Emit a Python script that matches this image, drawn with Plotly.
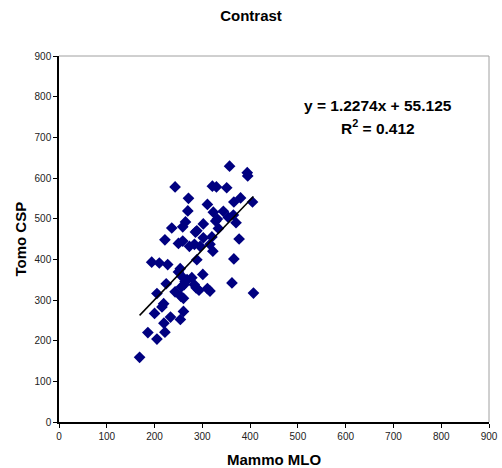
import plotly.graph_objects as go

mammo_mlo = [357, 394, 395, 243, 321, 329.5, 351, 271, 380, 366, 405, 310.6, 269.6, 323, 344, 365,
             354.5, 331.5, 328, 264.7, 370.5, 259, 236, 302, 333.6, 288.5, 285.6, 302, 320, 377,
             221.7, 259, 250, 283.5, 273, 295.4, 316, 322, 288.5, 366, 194, 210, 227.5, 253.7,
             250, 301, 258, 278, 264, 224.4, 362, 283, 256, 287, 293, 310.6, 316, 243, 407,
             205, 255, 260.5, 219, 215.5, 200, 260.5, 233.4, 254, 219.6, 186, 221.7, 205, 168.7,
             262, 268]
tomo_csp = [629, 613, 605, 578, 580, 578, 576, 550, 551, 541, 541, 535, 519, 516, 518, 509,
            503, 499, 494, 492, 490, 480, 477, 487, 476, 470, 467, 453, 455, 450,
            448, 445, 439, 437, 432, 432, 437, 420, 399, 401, 393, 391, 387, 377,
            369, 363, 357, 355, 345, 340, 342, 338, 332, 330, 324, 328, 322, 320, 317,
            316, 309, 304, 291, 283, 267, 272, 258, 252, 243, 220, 221, 204, 159,
            338, 350]

slope = 1.2274
intercept = 55.125
trend_x = [min(mammo_mlo), max(mammo_mlo)]
trend_y = [slope * v + intercept for v in trend_x]

x_ticks = list(range(0, 901, 100))
y_ticks = list(range(0, 901, 100))

font_family = "Liberation Sans, Arial, sans-serif"

fig = go.Figure()
fig.add_trace(go.Scatter(
    x=mammo_mlo, y=tomo_csp, mode="markers",
    marker=dict(symbol="diamond", size=9, color="#000080", line=dict(width=0)),
    showlegend=False, hoverinfo="x+y"))
fig.add_trace(go.Scatter(
    x=trend_x, y=trend_y, mode="lines",
    line=dict(color="black", width=1.5), showlegend=False))

fig.update_layout(
    template="none",
    width=502, height=468,
    margin=dict(l=58.5, r=12.7, t=56, b=46.3, pad=0),
    paper_bgcolor="white", plot_bgcolor="white",
    font=dict(family=font_family, color="black", size=10),
    title=dict(text="<b>Contrast</b>", x=0.5, xref="container", xanchor="center",
               y=1 - 16 / 468, yref="container", yanchor="middle",
               font=dict(size=15, family=font_family)),
    xaxis=dict(range=[0, 900], tickvals=x_ticks, ticktext=[str(v) for v in x_ticks],
               automargin=False,
               showgrid=False, zeroline=False, showline=True, linecolor="black", linewidth=1.5,
               ticks="outside", ticklen=4, tickcolor="black", tickfont=dict(size=10, color="#222")),
    yaxis=dict(range=[0, 900], tickvals=y_ticks, ticktext=[str(v) for v in y_ticks],
               automargin=False,
               showgrid=False, zeroline=False, showline=True, linecolor="black", linewidth=1.5,
               ticks="outside", ticklen=4, tickcolor="black", tickfont=dict(size=10, color="#222")),
    shapes=[
        dict(type="line", xref="paper", yref="paper", x0=0, x1=1, y0=1, y1=1,
             line=dict(color="#a0a0a0", width=1)),
        dict(type="line", xref="paper", yref="paper", x0=1, x1=1, y0=0, y1=1,
             line=dict(color="#a0a0a0", width=1)),
    ],
    annotations=[
        dict(text="<b>Mammo MLO</b>", x=0.5, y=-0.102, xref="paper", yref="paper",
             xanchor="center", yanchor="middle", showarrow=False,
             font=dict(size=15, family=font_family)),
        dict(text="<b>Tomo CSP</b>", x=-0.0917, y=0.5, xref="paper", yref="paper",
             xanchor="center", yanchor="middle", textangle=-90, showarrow=False,
             font=dict(size=15, family=font_family)),
        dict(text="<b>y = 1.2274x + 55.125</b>", x=668.5, y=779.5, xref="x", yref="y",
             showarrow=False, font=dict(size=15.5, family=font_family)),
        dict(text="<b>R<sup>2</sup> = 0.412</b>", x=668.5, y=726, xref="x", yref="y",
             showarrow=False, font=dict(size=15.5, family=font_family)),
    ],
)

fig.write_html("out.html", config={"displayModeBar": False},
               post_script="document.body.style.margin='0';document.body.style.overflow='hidden';")
